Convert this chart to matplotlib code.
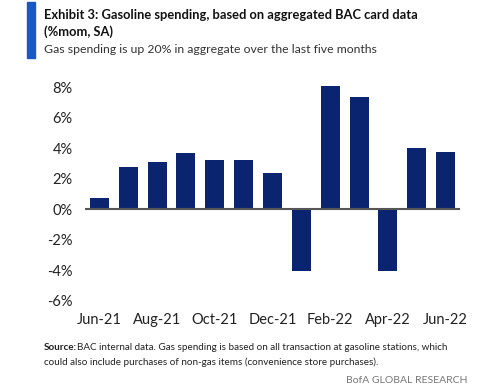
import matplotlib.pyplot as plt
import numpy as np

months = ["Jun-21", "Jul-21", "Aug-21", "Sep-21", "Oct-21", "Nov-21", "Dec-21",
          "Jan-22", "Feb-22", "Mar-22", "Apr-22", "May-22", "Jun-22"]
values = [0.76, 2.76, 3.09, 3.68, 3.2, 3.2, 2.39, -4.03, 8.08, 7.34, -4.03, 4.03, 3.76]
yticks = [-6, -4, -2, 0, 2, 4, 6, 8]

navy = "#0b2470"
font = ["Lato", "DejaVu Sans"]

fig = plt.figure(figsize=(5, 3.92), dpi=100)
ax = fig.add_axes([0.17, 0.2128, 0.75, 0.5846])

x = np.arange(len(months))
ax.bar(x, values, width=0.66, color=navy, zorder=2)
ax.axhline(0, color="#555555", lw=1.5, zorder=3)

ax.set_xlim(-0.5, len(months) - 0.5)
ax.set_ylim(-6.5, 8.5)
ax.set_yticks(yticks)
ax.set_yticklabels([f"{v}%" for v in yticks], family=font, fontsize=10.5, color="#222222")
ax.set_xticks(x[::2])
ax.set_xticklabels(months[::2], family=font, fontsize=10.5, color="#222222")
ax.tick_params(length=0)
ax.tick_params(axis="y", pad=9)
ax.tick_params(axis="x", pad=3)
for s in ax.spines.values():
    s.set_visible(False)

# header
fig.patches.append(plt.Rectangle((27 / 500, 1 - 58 / 392), 8 / 500, 56 / 392,
                                 transform=fig.transFigure, color="#1857c4"))
fig.text(44 / 500, 1 - 19 / 392, "Exhibit 3: Gasoline spending, based on aggregated BAC card data",
         fontsize=9.3, fontweight="bold", color="#111111", va="baseline", family=font)
fig.text(44 / 500, 1 - 36 / 392, "(%mom, SA)",
         fontsize=9.3, fontweight="bold", color="#111111", va="baseline", family=font)
fig.text(44 / 500, 1 - 53 / 392, "Gas spending is up 20% in aggregate over the last five months",
         fontsize=8.8, color="#333333", va="baseline", family=font)

# footer
fig.text(44 / 500, 1 - 350 / 392, "Source:", fontsize=7.1, fontweight="bold",
         color="#222222", va="baseline", family=font)
fig.text(77 / 500, 1 - 350 / 392, "BAC internal data. Gas spending is based on all transaction at gasoline stations, which",
         fontsize=7.1, color="#222222", va="baseline", family=font)
fig.text(44 / 500, 1 - 365 / 392, "could also include purchases of non-gas items (convenience store purchases).",
         fontsize=7.1, color="#222222", va="baseline", family=font)
fig.text(468 / 500, 1 - 383 / 392, "BofA GLOBAL RESEARCH",
         fontsize=7.5, color="#777777", va="baseline", ha="right", family=font)

plt.savefig("out.png")
